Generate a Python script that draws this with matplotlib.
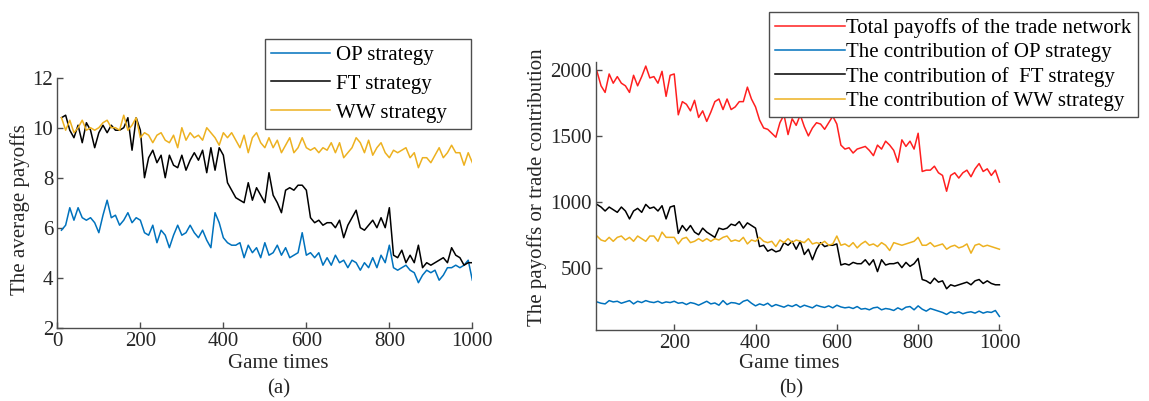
import numpy as np
import matplotlib
matplotlib.use("Agg")
import matplotlib.pyplot as plt

plt.rcParams["font.family"] = ["Liberation Serif", "DejaVu Serif"]
plt.rcParams["font.size"] = 15

# sampled game times
game_times = np.arange(10, 1001, 10)

# (a) average payoffs per strategy
op_avg = [5.9, 6.1, 6.8, 6.3, 6.8, 6.4, 6.3, 6.4, 6.2, 5.8,
          6.5, 7.1, 6.4, 6.5, 6.1, 6.3, 6.6, 6.2, 6.4, 6.3,
          5.8, 5.7, 6.1, 5.4, 5.9, 5.7, 5.2, 5.7, 6.1, 5.7,
          5.8, 6.1, 5.8, 5.6, 5.9, 5.5, 5.2, 6.6, 6.2, 5.6,
          5.4, 5.3, 5.3, 5.4, 4.8, 5.3, 5.0, 5.2, 4.8, 5.4,
          4.9, 5.0, 5.3, 4.9, 5.2, 4.8, 4.9, 5.0, 5.8, 4.9,
          5.0, 4.8, 5.0, 4.5, 4.8, 4.5, 4.9, 4.6, 4.7, 4.4,
          4.7, 4.6, 4.3, 4.6, 4.4, 4.8, 4.4, 4.9, 4.6, 5.3,
          4.4, 4.3, 4.4, 4.5, 4.3, 4.2, 3.8, 4.1, 4.3, 4.2,
          4.3, 3.9, 4.1, 4.4, 4.4, 4.5, 4.4, 4.5, 4.7, 3.9]
ft_avg = [10.4, 10.5, 9.9, 9.6, 10.1, 9.4, 10.2, 9.9, 9.2, 9.8,
          10.1, 9.8, 10.1, 9.9, 9.9, 10.0, 10.4, 9.1, 10.4, 9.9,
          8.0, 8.8, 9.1, 8.6, 8.9, 8.0, 8.9, 8.5, 8.4, 8.9,
          8.3, 8.7, 9.0, 8.7, 9.1, 8.2, 9.2, 8.3, 9.2, 8.9,
          7.8, 7.5, 7.2, 7.1, 7.0, 7.8, 7.1, 7.6, 7.3, 7.0,
          8.2, 7.3, 7.0, 6.6, 7.5, 7.6, 7.5, 7.7, 7.7, 7.5,
          6.4, 6.2, 6.3, 6.1, 6.2, 6.2, 6.0, 6.3, 5.6, 6.1,
          6.4, 6.7, 6.0, 5.9, 6.1, 6.3, 6.0, 6.4, 6.0, 6.8,
          4.9, 4.8, 5.1, 4.6, 4.9, 4.6, 5.3, 4.4, 4.6, 4.5,
          4.6, 4.7, 4.8, 4.6, 5.2, 4.9, 4.8, 4.5, 4.6, 4.6]
ww_avg = [10.4, 9.9, 10.3, 9.8, 10.0, 10.3, 9.9, 10.0, 9.9, 10.0,
          10.2, 10.3, 10.0, 10.0, 9.9, 10.5, 9.9, 10.1, 10.4, 9.6,
          9.8, 9.7, 9.4, 9.7, 9.8, 9.5, 9.4, 9.7, 9.2, 10.0,
          9.5, 9.8, 9.6, 9.7, 9.5, 10.0, 9.8, 9.6, 9.3, 9.8,
          9.6, 9.8, 9.5, 9.2, 9.7, 9.0, 9.6, 9.8, 9.4, 9.2,
          9.6, 9.2, 9.5, 9.0, 9.3, 9.6, 9.0, 9.2, 9.6, 9.2,
          9.1, 9.2, 9.0, 9.2, 9.1, 9.4, 9.0, 9.4, 8.8, 9.0,
          9.2, 9.6, 9.4, 9.0, 9.5, 8.9, 9.2, 9.4, 9.0, 8.8,
          9.1, 9.0, 9.1, 9.2, 8.8, 9.0, 8.4, 8.8, 8.8, 8.6,
          8.9, 9.2, 8.8, 9.0, 9.3, 9.0, 9.0, 8.5, 9.0, 8.6]

# (b) total payoffs and contribution of each strategy
total_pay = [1990, 1880, 1830, 1970, 1900, 1950, 1900, 1880, 1830, 1960,
             1880, 1950, 2030, 1940, 1950, 1900, 1990, 1800, 1960, 1970,
             1660, 1760, 1740, 1690, 1770, 1640, 1690, 1610, 1680, 1760,
             1780, 1700, 1780, 1700, 1720, 1760, 1760, 1870, 1780, 1720,
             1620, 1560, 1550, 1520, 1490, 1600, 1660, 1510, 1630, 1580,
             1660, 1570, 1500, 1560, 1600, 1590, 1550, 1600, 1650, 1590,
             1430, 1400, 1410, 1370, 1400, 1410, 1420, 1390, 1350, 1430,
             1400, 1460, 1430, 1390, 1300, 1470, 1420, 1460, 1400, 1520,
             1230, 1240, 1240, 1270, 1220, 1200, 1080, 1200, 1220, 1180,
             1220, 1240, 1190, 1250, 1290, 1230, 1250, 1200, 1240, 1150]
op_contrib = [240, 230, 225, 250, 240, 245, 230, 240, 250, 225,
              245, 235, 250, 240, 235, 245, 230, 240, 235, 245,
              230, 235, 220, 235, 228, 215, 230, 245, 225, 232,
              215, 250, 220, 235, 232, 222, 245, 255, 230, 210,
              225, 215, 230, 205, 220, 210, 200, 215, 205, 220,
              200, 215, 205, 195, 215, 205, 198, 210, 195, 215,
              202, 195, 200, 190, 205, 185, 190, 180, 195, 200,
              180, 190, 185, 175, 195, 180, 200, 205, 180, 210,
              185, 170, 190, 180, 170, 160, 145, 165, 155, 165,
              150, 160, 165, 155, 170, 155, 165, 160, 175, 130]
ft_contrib = [980, 960, 930, 960, 940, 920, 960, 930, 870, 930,
              950, 920, 980, 950, 960, 930, 970, 870, 960, 970,
              760, 820, 780, 820, 770, 750, 800, 770, 750, 730,
              800, 790, 800, 830, 820, 850, 800, 840, 820, 800,
              660, 670, 625, 640, 620, 630, 690, 670, 700, 640,
              700, 600, 640, 560, 640, 690, 660, 670, 670, 680,
              520, 530, 520, 540, 530, 530, 560, 520, 560, 470,
              560, 520, 530, 530, 540, 500, 540, 510, 530, 570,
              410, 400, 380, 420, 390, 400, 340, 370, 360, 370,
              380, 390, 370, 400, 410, 380, 400, 380, 370, 370]
ww_contrib = [740, 710, 700, 730, 700, 730, 740, 710, 730, 700,
              740, 720, 700, 740, 740, 700, 770, 730, 730, 730,
              680, 720, 730, 690, 700, 720, 700, 720, 700, 720,
              710, 730, 740, 700, 710, 700, 730, 680, 710, 700,
              730, 700, 690, 700, 660, 710, 690, 720, 690, 710,
              700, 690, 720, 680, 690, 680, 700, 670, 680, 740,
              670, 680, 660, 690, 650, 680, 700, 670, 680, 660,
              690, 670, 630, 690, 680, 670, 680, 690, 700, 730,
              670, 670, 690, 660, 670, 680, 640, 660, 670, 650,
              660, 680, 610, 670, 680, 660, 670, 660, 650, 640]

blue = "#0072BD"
orange = "#EDB120"
red = "#FF1F1F"
axis_col = "#4d4d4d"
text_col = "#262626"

fig = plt.figure(figsize=(11.49, 4.01), dpi=100)
ax1 = fig.add_axes([0.0499, 0.1828, 0.3612, 0.6234])
ax2 = fig.add_axes([0.5185, 0.1771, 0.3524, 0.6690])


def style_axes(ax):
    for side in ("top", "right"):
        ax.spines[side].set_visible(False)
    for side in ("left", "bottom"):
        ax.spines[side].set_color(axis_col)
        ax.spines[side].set_linewidth(1.0)
    ax.tick_params(direction="in", length=4, width=1.0, color=axis_col,
                   labelcolor=text_col, labelsize=15, pad=3)


# panel (a)
ax1.plot(game_times, op_avg, color=blue, lw=1.1, label="OP strategy")
ax1.plot(game_times, ft_avg, color="k", lw=1.1, label="FT strategy")
ax1.plot(game_times, ww_avg, color=orange, lw=1.1, label="WW strategy")
ax1.set_xlim(0, 1000)
ax1.set_ylim(2, 12)
ax1.set_xticks([0, 200, 400, 600, 800, 1000])
ax1.set_yticks([2, 4, 6, 8, 10, 12])
style_axes(ax1)
# legend box is wider than its text, so stretch it to a fixed span
leg1 = ax1.legend(loc="upper left",
                  bbox_to_anchor=(265 / 1149, 1 - 131 / 401, 206 / 1149, 92 / 401),
                  bbox_transform=fig.transFigure, mode="expand", borderaxespad=0,
                  fancybox=False, edgecolor=axis_col, framealpha=1,
                  handlelength=2.8, handletextpad=0.3, labelspacing=0.45,
                  borderpad=0.3, fontsize=15)
leg1.get_frame().set_linewidth(1.0)

# panel (b)
ax2.plot(game_times, total_pay, color=red, lw=1.1,
         label="Total payoffs of the trade network")
ax2.plot(game_times, op_contrib, color=blue, lw=1.1,
         label="The contribution of OP strategy")
ax2.plot(game_times, ft_contrib, color="k", lw=1.1,
         label="The contribution of  FT strategy")
ax2.plot(game_times, ww_contrib, color=orange, lw=1.1,
         label="The contribution of WW strategy")
ax2.set_xlim(7, 1003)
ax2.set_ylim(27, 2063)
ax2.set_xticks([200, 400, 600, 800, 1000])
ax2.set_yticks([500, 1000, 1500, 2000])
style_axes(ax2)
leg2 = ax2.legend(loc="upper left", bbox_to_anchor=(769 / 1149, 1 - 12 / 401),
                  bbox_transform=fig.transFigure, borderaxespad=0,
                  fancybox=False, edgecolor=axis_col, framealpha=1,
                  handlelength=3.35, handletextpad=0.05, labelspacing=0.21,
                  borderpad=0.3, fontsize=15)
leg2.get_frame().set_linewidth(1.0)

# axis titles and panel captions
fig.text(20 / 1149, 1 - 210 / 401, "The average payoffs", rotation=90,
         ha="center", va="center", color=text_col, fontsize=15)
fig.text(537 / 1149, 1 - 187 / 401, "The payoffs or trade contribution",
         rotation=90, ha="center", va="center", color=text_col, fontsize=15)
fig.text(278 / 1149, 1 - 363 / 401, "Game times", ha="center", va="center",
         color=text_col, fontsize=15)
fig.text(279 / 1149, 1 - 389 / 401, "(a)", ha="center", va="center",
         color=text_col, fontsize=15)
fig.text(789 / 1149, 1 - 363 / 401, "Game times", ha="center", va="center",
         color=text_col, fontsize=15)
fig.text(791 / 1149, 1 - 389 / 401, "(b)", ha="center", va="center",
         color=text_col, fontsize=15)

fig.savefig("out.png", dpi=100)
